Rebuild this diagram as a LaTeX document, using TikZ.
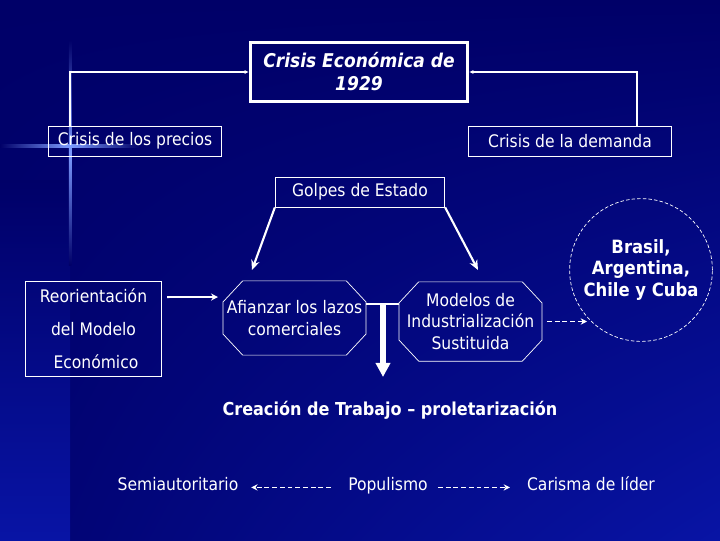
\documentclass[tikz,border=0pt]{standalone}
\usepackage{fontspec}
\setmainfont{DejaVu Sans Condensed}[
  BoldFont={DejaVu Sans Condensed Bold},
  ItalicFont={DejaVu Sans Condensed Oblique},
  BoldItalicFont={DejaVu Sans Condensed Bold Oblique}]
\usepackage{tikz}
\usetikzlibrary{arrows.meta, shadings, positioning, calc}
\definecolor{slidenavy}{RGB}{0,0,104}
\definecolor{slideblue}{RGB}{8,20,165}
\definecolor{glowblue}{RGB}{125,155,255}

\begin{document}
\begin{tikzpicture}[
        x=0.025cm, y=-0.025cm,
        every node/.style={text=white, font=\fontsize{12.3}{15}\selectfont},
        titlebox/.style={rectangle, draw=white, line width=2.2pt, align=center, minimum width=154.5pt, minimum height=42.5pt, font=\fontsize{13.5}{16.3}\selectfont\bfseries\itshape},
        box/.style={rectangle, draw=white, line width=0.6pt, align=center, minimum height=21.3pt, inner sep=0pt},
        octo/.style={rectangle, align=center, inner sep=0pt, minimum width=101.3pt, font=\fontsize{12.3}{15.2}\selectfont},
        octline/.style={draw=white, line width=0.5pt},
        ring/.style={circle, draw=white, line width=0.5pt, dash pattern=on 2.5pt off 1.5pt, minimum size=99.2pt, align=center, font=\fontsize{13}{15.2}\selectfont\bfseries},
        plain/.style={inner sep=0pt, text height=9pt, text depth=2.5pt},
        link/.style={white, line width=1.6pt, -{Latex[length=3pt,width=3pt]}},
        arrow/.style={white, line width=1.5pt, -{Stealth[length=7pt,width=6pt]}},
        joint/.style={white, line width=1.4pt},
        bigarrow/.style={white, line width=4pt, -{Triangle[length=10pt,width=10pt]}},
        dasharrow/.style={white, line width=1.3pt, dash pattern=on 3.5pt off 2pt, -{Stealth[length=4.5pt,width=4.5pt]}}
    ]
        % slide background
        \useasboundingbox (0,0) rectangle (720,540);
        \shade[upper left=slidenavy, upper right=slidenavy, lower left=slidenavy!85!slideblue, lower right=slideblue] (0,0) rectangle (720,540);
        \shade[top color=slidenavy, bottom color=slideblue] (0,180) rectangle (70,540);
        \shade[top color=slidenavy, bottom color=slidenavy, middle color=glowblue] (68.8,40) rectangle (71.4,265);
        \shade[left color=slidenavy, right color=slidenavy, middle color=glowblue] (0,144.6) rectangle (140,147);

        % causes
        \node[titlebox] (crisis) at (359,72) {Crisis Económica de\\1929};
        \node[box, minimum width=123.3pt] (precios) at (135,141) {Crisis de los precios};
        \node[box, minimum width=144.6pt] (demanda) at (570,141) {Crisis de la demanda};
        \draw[link] ([xshift=15.6pt]precios.north west) |- (crisis.west);
        \draw[link] ([xshift=-24.8pt]demanda.north east) |- (crisis.east);

        \node[box, minimum width=120.5pt] (golpes) at (360,192) {Golpes de Estado};
        \coordinate (tipL) at (252,270);
        \coordinate (tipR) at (478,270);
        \draw[arrow] (golpes.south west) -- (tipL);
        \draw[arrow] (golpes.south east) -- (tipR);

        % models
        \node[box, minimum width=97.1pt, minimum height=68pt] (reorient) at (93.5,329)
            {Reorientación\\[8.4pt]del Modelo\\[8.4pt]\ Económico};
        \node[octo, minimum height=52.4pt] (afianzar) at (294.5,318)
            {Afianzar los lazos\\comerciales};
        \node[octo, minimum height=56pt] (modelos) at (470.5,321.5)
            {Modelos de\\Industrialización\\Sustituida};
        \foreach \n in {afianzar, modelos}
            \draw[octline] ([xshift=14pt]\n.north west) -- ([xshift=-14pt]\n.north east)
                -- ([yshift=-15pt]\n.north east) -- ([yshift=15pt]\n.south east)
                -- ([xshift=-14pt]\n.south east) -- ([xshift=14pt]\n.south west)
                -- ([yshift=15pt]\n.south west) -- ([yshift=-15pt]\n.north west) -- cycle;
        \node[ring] (paises) at (641,270) {Brasil,\\Argentina,\\Chile y Cuba};

        \draw[arrow, line width=1.3pt, -{Stealth[length=5pt,width=5pt]}] ([xshift=3.5pt,yshift=22.7pt]reorient.east) -- ([xshift=-3.5pt,yshift=14.9pt]afianzar.west);
        \draw[joint] ([yshift=9.9pt]afianzar.east) coordinate (split) -- (split -| modelos.west);
        \coordinate (drop) at (383,304);
        \coordinate (dropend) at (383,377);
        \draw[bigarrow] (drop) -- (dropend);
        \coordinate (circtip) at (587,321.5);
        \draw[dasharrow, shorten <=3.5pt] (modelos.east) -- (circtip);

        % outcomes
        \node[plain, font=\fontsize{12.7}{15}\selectfont\bfseries] (trabajo) at (390,411) {Creación de Trabajo – proletarización};
        \node[plain] (semi) at (178,486) {Semiautoritario};
        \node[plain] (populismo) at (388,486) {Populismo};
        \node[plain] (carisma) at (591,486) {Carisma de líder};
        \draw[dasharrow, shorten <=12pt, shorten >=9pt] ([yshift=-1pt]populismo.west) -- ([yshift=-1pt]semi.east);
        \draw[dasharrow, shorten <=7pt, shorten >=12pt] ([yshift=-1pt]populismo.east) -- ([yshift=-1pt]carisma.west);
    \end{tikzpicture}
\end{document}
